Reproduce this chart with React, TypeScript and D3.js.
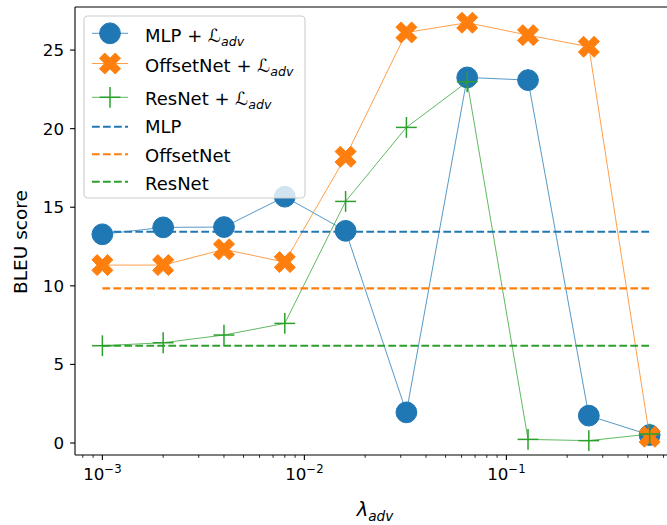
import React from "react";
import * as d3 from "d3";

// Sweep over the adversarial weight λ_adv
const lambdas = [0.001, 0.002, 0.004, 0.008, 0.016, 0.032, 0.064, 0.128, 0.256, 0.512];

// BLEU scores with the adversarial loss
const mlpAdv = [13.28, 13.72, 13.74, 15.67, 13.5, 1.95, 23.26, 23.09, 1.74, 0.51];
const offsetNetAdv = [11.32, 11.32, 12.32, 11.51, 18.21, 26.12, 26.74, 25.95, 25.21, 0.4];
const resNetAdv = [6.19, 6.38, 6.87, 7.61, 15.37, 20.08, 22.98, 0.23, 0.15, 0.57];

// Baselines without the adversarial loss
const baselineNames = ["MLP", "OffsetNet", "ResNet"];
const baselineScores = [13.44, 9.84, 6.19];

const yTicks = [0, 5, 10, 15, 20, 25];
const xMajorExps = [-3, -2, -1];

const BLUE = "#1f77b4";
const ORANGE = "#ff7f0e";
const GREEN = "#2ca02c";
const FONT = "DejaVu Sans, sans-serif";
const FS = 16.7;
const FS_LEG = 18;
const FS_LAB = 18.5;

const W = 667;
const H = 525;
const left = 75;
const right = 677;
const top = 7;
const bottom = 455;

const logLo = Math.log10(d3.min(lambdas)!);
const logHi = Math.log10(d3.max(lambdas)!);
const pad = 0.05 * (logHi - logLo);
const x = d3
  .scaleLog()
  .domain([Math.pow(10, logLo - pad), Math.pow(10, logHi + pad)])
  .range([left, right]);
const y = d3.scaleLinear().domain([-0.763, 27.74]).range([bottom, top]);

const lineGen = d3
  .line<[number, number]>()
  .x((d) => x(d[0]))
  .y((d) => y(d[1]));

const zip = (vals: number[]) => lambdas.map((l, i) => [l, vals[i]] as [number, number]);

// Filled "X" marker outline
const xMarkerPath = (cx: number, cy: number, s: number) => {
  const pts = [
    [-1, -2], [0, -1], [1, -2], [2, -1], [1, 0], [2, 1],
    [1, 2], [0, 1], [-1, 2], [-2, 1], [-1, 0], [-2, -1],
  ];
  const k = s / 4;
  return "M" + pts.map(([a, b]) => `${cx + a * k},${cy + b * k}`).join("L") + "Z";
};

const Circle = ({ cx, cy }: { cx: number; cy: number }) => (
  <circle cx={cx} cy={cy} r={10.4} fill={BLUE} stroke={BLUE} strokeWidth={1} />
);
const Cross = ({ cx, cy }: { cx: number; cy: number }) => (
  <path d={xMarkerPath(cx, cy, 21)} fill={ORANGE} stroke={ORANGE} strokeWidth={1} strokeLinejoin="miter" />
);
const Plus = ({ cx, cy }: { cx: number; cy: number }) => (
  <g stroke={GREEN} strokeWidth={1.5}>
    <line x1={cx - 10.4} x2={cx + 10.4} y1={cy} y2={cy} />
    <line x1={cx} x2={cx} y1={cy - 10.4} y2={cy + 10.4} />
  </g>
);

const minorTicks: number[] = [];
for (let e = -4; e <= 0; e++) {
  for (let m = 2; m <= 9; m++) {
    const v = m * Math.pow(10, e);
    const px = x(v);
    if (px >= left && px <= right) minorTicks.push(v);
  }
}

const baselineColors = [BLUE, ORANGE, GREEN];

const AdvLabel = ({ name, tx, ty }: { name: string; tx: number; ty: number }) => (
  <text x={tx} y={ty} fontFamily={FONT} fontSize={FS_LEG} fill="#000">
    <tspan>{name} + </tspan>
    <tspan fontStyle="italic">ℒ</tspan>
    <tspan fontStyle="italic" fontSize={FS_LEG * 0.7} dy={4}>adv</tspan>
  </text>
);

export default function App() {
  const lx1 = 92;
  const lx2 = 128;
  const lmx = 110;
  const tx = 145;
  const markerRows = [33.3, 63.5, 97.3];
  const markerBase = [42, 72, 105];
  const dashRows = [126.7, 154.3, 181.7];
  const dashBase = [133, 162, 190];

  return (
    <svg
      width={W}
      height={H}
      style={{ position: "absolute", left: 0, top: 0, background: "#fff" }}
    >
      <rect x={0} y={0} width={W} height={H} fill="#fff" />
      <defs>
        <clipPath id="plotArea">
          <rect x={left} y={top} width={right - left} height={bottom - top} />
        </clipPath>
      </defs>

      <g clipPath="url(#plotArea)">
        {/* MLP + adv */}
        <path d={lineGen(zip(mlpAdv))!} fill="none" stroke={BLUE} strokeWidth={1} strokeOpacity={0.75} />
        {lambdas.map((l, i) => (
          <Circle key={"m" + i} cx={x(l)} cy={y(mlpAdv[i])} />
        ))}
        {/* OffsetNet + adv */}
        <path d={lineGen(zip(offsetNetAdv))!} fill="none" stroke={ORANGE} strokeWidth={1} strokeOpacity={0.75} />
        {lambdas.map((l, i) => (
          <Cross key={"o" + i} cx={x(l)} cy={y(offsetNetAdv[i])} />
        ))}
        {/* ResNet + adv */}
        <path d={lineGen(zip(resNetAdv))!} fill="none" stroke={GREEN} strokeWidth={1} strokeOpacity={0.75} />
        {lambdas.map((l, i) => (
          <Plus key={"r" + i} cx={x(l)} cy={y(resNetAdv[i])} />
        ))}
        {/* Baselines */}
        {baselineScores.map((s, i) => (
          <line
            key={"b" + i}
            x1={x(lambdas[0])}
            x2={x(lambdas[lambdas.length - 1])}
            y1={y(s)}
            y2={y(s)}
            stroke={baselineColors[i]}
            strokeWidth={2.1}
            strokeDasharray="7.7,3.3"
          />
        ))}
      </g>

      {/* Spines */}
      <g stroke="#000" strokeWidth={1.1} fill="none">
        <line x1={left} x2={left} y1={top} y2={bottom} />
        <line x1={left} x2={right} y1={bottom} y2={bottom} />
        <line x1={left} x2={right} y1={top} y2={top} />
        <line x1={right} x2={right} y1={top} y2={bottom} />
      </g>

      {/* Y axis */}
      {yTicks.map((t) => (
        <g key={"yt" + t}>
          <line x1={left - 4.9} x2={left} y1={y(t)} y2={y(t)} stroke="#000" strokeWidth={1.1} />
          <text
            x={left - 11}
            y={y(t)}
            dy="0.36em"
            textAnchor="end"
            fontFamily={FONT}
            fontSize={FS}
            fill="#000"
          >
            {t}
          </text>
        </g>
      ))}

      {/* X axis */}
      {minorTicks.map((v, i) => (
        <line key={"xm" + i} x1={x(v)} x2={x(v)} y1={bottom} y2={bottom + 2.8} stroke="#000" strokeWidth={0.85} />
      ))}
      {xMajorExps.map((e) => {
        const px = x(Math.pow(10, e));
        return (
          <g key={"xt" + e}>
            <line x1={px} x2={px} y1={bottom} y2={bottom + 4.9} stroke="#000" strokeWidth={1.1} />
            <text x={px} y={480} textAnchor="middle" fontFamily={FONT} fontSize={FS} fill="#000">
              <tspan>10</tspan>
              <tspan fontSize={FS * 0.7} dy={-7.5}>{"\u2212" + Math.abs(e)}</tspan>
            </text>
          </g>
        );
      })}

      {/* Axis labels */}
      <text x={375} y={516} textAnchor="middle" fontFamily={FONT} fontSize={FS_LAB + 1} fill="#000">
        <tspan fontStyle="italic">λ</tspan>
        <tspan fontStyle="italic" fontSize={(FS_LAB + 1) * 0.7} dy={4.5}>adv</tspan>
      </text>
      <text
        transform={`translate(27,242) rotate(-90)`}
        textAnchor="middle"
        fontFamily={FONT}
        fontSize={FS_LAB}
        fill="#000"
      >
        BLEU score
      </text>

      {/* Legend */}
      <rect x={84} y={16} width={221} height={182} rx={4} ry={4} fill="#fff" fillOpacity={0.8} stroke="#cccccc" strokeWidth={1.1} />
      {/* marker entries */}
      <line x1={lx1} x2={lx2} y1={markerRows[0]} y2={markerRows[0]} stroke={BLUE} strokeWidth={1} strokeOpacity={0.75} />
      <Circle cx={lmx} cy={markerRows[0]} />
      <AdvLabel name="MLP" tx={tx} ty={markerBase[0]} />
      <line x1={lx1} x2={lx2} y1={markerRows[1]} y2={markerRows[1]} stroke={ORANGE} strokeWidth={1} strokeOpacity={0.75} />
      <Cross cx={lmx} cy={markerRows[1]} />
      <AdvLabel name="OffsetNet" tx={tx} ty={markerBase[1]} />
      <line x1={lx1} x2={lx2} y1={markerRows[2]} y2={markerRows[2]} stroke={GREEN} strokeWidth={1} strokeOpacity={0.75} />
      <Plus cx={lmx} cy={markerRows[2]} />
      <AdvLabel name="ResNet" tx={tx} ty={markerBase[2]} />
      {/* baseline entries */}
      {baselineNames.map((n, i) => (
        <g key={"lb" + i}>
          <line
            x1={lx1}
            x2={lx2}
            y1={dashRows[i]}
            y2={dashRows[i]}
            stroke={baselineColors[i]}
            strokeWidth={2.1}
            strokeDasharray="7.7,3.3"
          />
          <text x={tx} y={dashBase[i]} fontFamily={FONT} fontSize={FS_LEG} fill="#000">
            {n}
          </text>
        </g>
      ))}
    </svg>
  );
}
